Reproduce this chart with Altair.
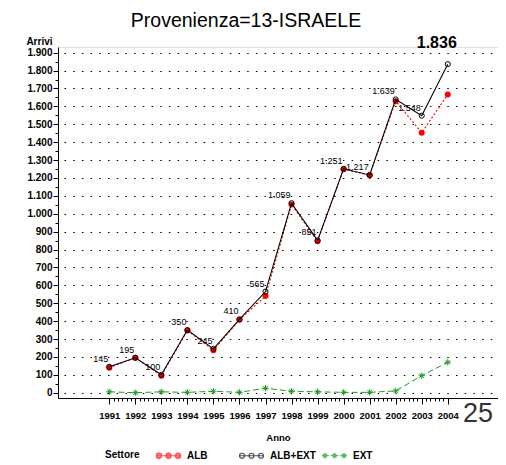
import altair as alt
import pandas as pd

# ---------------- data ----------------
years = list(range(1991, 2005))
alb_ext = [145, 195, 100, 350, 245, 410, 565, 1059, 851, 1251, 1217, 1639, 1548, 1836]
alb = [140, 195, 95, 348, 237, 408, 540, 1051, 846, 1249, 1215, 1629, 1453, 1666]
ext = [5, 0, 5, 2, 8, 2, 25, 8, 5, 2, 2, 10, 95, 170]
series_names = ["ALB", "ALB+EXT", "EXT"]
series_colors = ["#ff0000", "#000000", "#1f9a1f"]
y_ticks = list(range(0, 1901, 50))
x_ticks = [round(1991 + k / 6, 4) for k in range(79)]
title_text = "Provenienza=13-ISRAELE"
legend_title = "Settore"
page_number = "25"

rows = []
for name, vals in zip(series_names, [alb, alb_ext, ext]):
    for yr, v in zip(years, vals):
        rows.append({"series": name, "anno": yr, "value": v,
                     "label": f"{v:,}".replace(",", ".")})
df = pd.DataFrame(rows)
d_alb = df[df.series == "ALB"]
d_tot = df[df.series == "ALB+EXT"]
d_ext = df[df.series == "EXT"]

FONT = "Liberation Sans, Arial, sans-serif"
W, H = 440, 351
PAD = {"left": 50, "top": 39, "right": 0, "bottom": 62}

xs = alt.Scale(domain=[1989.03, 2005.93], nice=False, zero=False)
ys = alt.Scale(domain=[-29.6, 1931.8], nice=False, zero=False)

major_y = "datum.value % 100 == 0"
major_x = "abs(datum.value - round(datum.value)) < 0.01"

x_axis = alt.Axis(
    values=x_ticks, grid=False, title="Anno",
    labelExpr=f"{major_x} ? toString(round(datum.value)) : ''",
    tickSize={"condition": {"test": major_x, "value": 6}, "value": 3},
    labelOverlap=False, labelFont=FONT, labelFontSize=9.5, labelFontWeight="bold",
    labelColor="black", labelPadding=6, domainColor="black", tickColor="black",
    titleFont=FONT, titleFontSize=9.5, titleFontWeight="bold", titlePadding=13,
    titleColor="black")
y_axis = alt.Axis(
    values=y_ticks, title="Arrivi",
    labelExpr=f"{major_y} ? replace(format(datum.value, ','), ',', '.') : ''",
    tickSize={"condition": {"test": major_y, "value": 5}, "value": 3},
    grid=True, gridColor="black", gridDash=[1.5, 7.2], gridDashOffset=2.7, gridWidth=1.1,
    gridOpacity={"condition": {"test": major_y, "value": 1}, "value": 0},
    labelOverlap=False, labelFont=FONT, labelFontSize=10, labelFontWeight="bold",
    labelColor="black", labelPadding=1, domainColor="black", tickColor="black",
    titleAngle=0, titleX=-6, titleY=-3, titleAlign="right", titleBaseline="alphabetic",
    titleFont=FONT, titleFontSize=10, titleFontWeight="bold", titleColor="black")

X = alt.X("anno:Q", scale=xs, axis=x_axis)
Y = alt.Y("value:Q", scale=ys, axis=y_axis)

ASTER = "M-1,0L1,0M0,-1L0,1M-0.7,-0.7L0.7,0.7M-0.7,0.7L0.7,-0.7"


def circ(cx, r):
    return f"M{cx - r},0A{r},{r} 0 1,0 {cx + r},0A{r},{r} 0 1,0 {cx - r},0Z"


def aster(cx, r):
    d = r * 0.7
    return (f"M{cx - r},0L{cx + r},0M{cx},{-r}L{cx},{r}"
            f"M{cx - d},{-d}L{cx + d},{d}M{cx - d},{d}L{cx + d},{-d}")


centers = [-0.76, 0.0, 0.76]
leg_alb = "M-1,0L1,0" + "".join(circ(c, 0.21) for c in centers)
leg_tot = "M-1,0L1,0" + "".join(circ(c, 0.2) for c in centers)
segs = [(-1, -0.92), (-0.6, -0.45), (-0.32, -0.2), (0.2, 0.32), (0.45, 0.6), (0.92, 1)]
leg_ext = "".join(f"M{a},0L{b},0" for a, b in segs) + "".join(aster(c, 0.22) for c in centers)

leg = alt.Legend(
    title=None, orient="none", legendX=97, legendY=395, direction="horizontal",
    symbolSize=625, symbolStrokeWidth=1.2, labelOffset=5, columnPadding=3,
    gridAlign="all", labelFont=FONT, labelFontSize=10, labelFontWeight="bold",
    labelColor="black")

# legend source: points drawn outside the clipped plot, only the legend shows
legend_layer = alt.Chart(df).mark_point(filled=True, size=625, clip=True).encode(
    x=alt.value(-2000), y=alt.value(-2000),
    fill=alt.Fill("series:N", scale=alt.Scale(domain=series_names,
                  range=["#ff0000", "transparent", "#1f9a1f"]), legend=leg),
    stroke=alt.Stroke("series:N", scale=alt.Scale(domain=series_names,
                      range=series_colors), legend=leg),
    shape=alt.Shape("series:N", scale=alt.Scale(domain=series_names,
                    range=[leg_alb, leg_tot, leg_ext]), legend=leg),
)

alb_line = alt.Chart(d_alb).mark_line(color="#ff0000", strokeWidth=1.1,
                                      strokeDash=[2, 2]).encode(x=X, y=Y)
alb_pts = alt.Chart(d_alb).mark_point(filled=True, color="#ff0000", size=36,
                                      shape="circle", opacity=1).encode(x=X, y=Y)
tot_line = alt.Chart(d_tot).mark_line(color="black", strokeWidth=1.1).encode(x=X, y=Y)
tot_pts = alt.Chart(d_tot).mark_point(filled=False, color="black", size=26,
                                      shape="circle", strokeWidth=1, opacity=1).encode(x=X, y=Y)
ext_line = alt.Chart(d_ext).mark_line(color="#1f9a1f", strokeWidth=1,
                                      strokeDash=[6, 3]).encode(x=X, y=Y)
ext_pts = alt.Chart(d_ext).mark_point(filled=False, color="#1f9a1f", size=40,
                                      shape=ASTER, strokeWidth=1, opacity=1).encode(x=X, y=Y)
labels = alt.Chart(d_tot[d_tot.anno < 2004]).mark_text(
    align="right", baseline="alphabetic", dx=-1, dy=-5, font=FONT, fontSize=9,
    color="black").encode(x=X, y=Y, text="label:N")
big_label = alt.Chart(d_tot[d_tot.anno == 2004]).mark_text(
    align="center", baseline="alphabetic", dx=-11, dy=-16,
    font=FONT, fontSize=16, fontWeight="bold",
    color="black").encode(x=X, y=Y, text="label:N")

one = pd.DataFrame({"a": [0]})
title_mark = alt.Chart(one).mark_text(
    text=title_text, align="center", baseline="alphabetic", font=FONT, fontSize=19.5,
    color="black").encode(x=alt.value(188), y=alt.value(-20))
settore_mark = alt.Chart(one).mark_text(
    text=legend_title, align="left", baseline="middle", font=FONT, fontSize=10,
    fontWeight="bold", color="black").encode(x=alt.value(47), y=alt.value(407.5))
page_no = alt.Chart(one).mark_text(
    text=page_number, align="left", baseline="alphabetic", font=FONT, fontSize=27,
    color="#333333").encode(x=alt.value(W - 35), y=alt.value(H + 24))

chart = alt.layer(
    legend_layer, alb_line, alb_pts, tot_line, tot_pts, ext_line, ext_pts,
    labels, big_label, title_mark, settore_mark, page_no
).properties(
    width=W, height=H,
    autosize=alt.AutoSizeParams(type="none"),
    padding=PAD,
).configure_view(stroke="black", strokeWidth=1).configure(background="white")

chart.save("out.html", embed_options={"renderer": "svg", "actions": False})
